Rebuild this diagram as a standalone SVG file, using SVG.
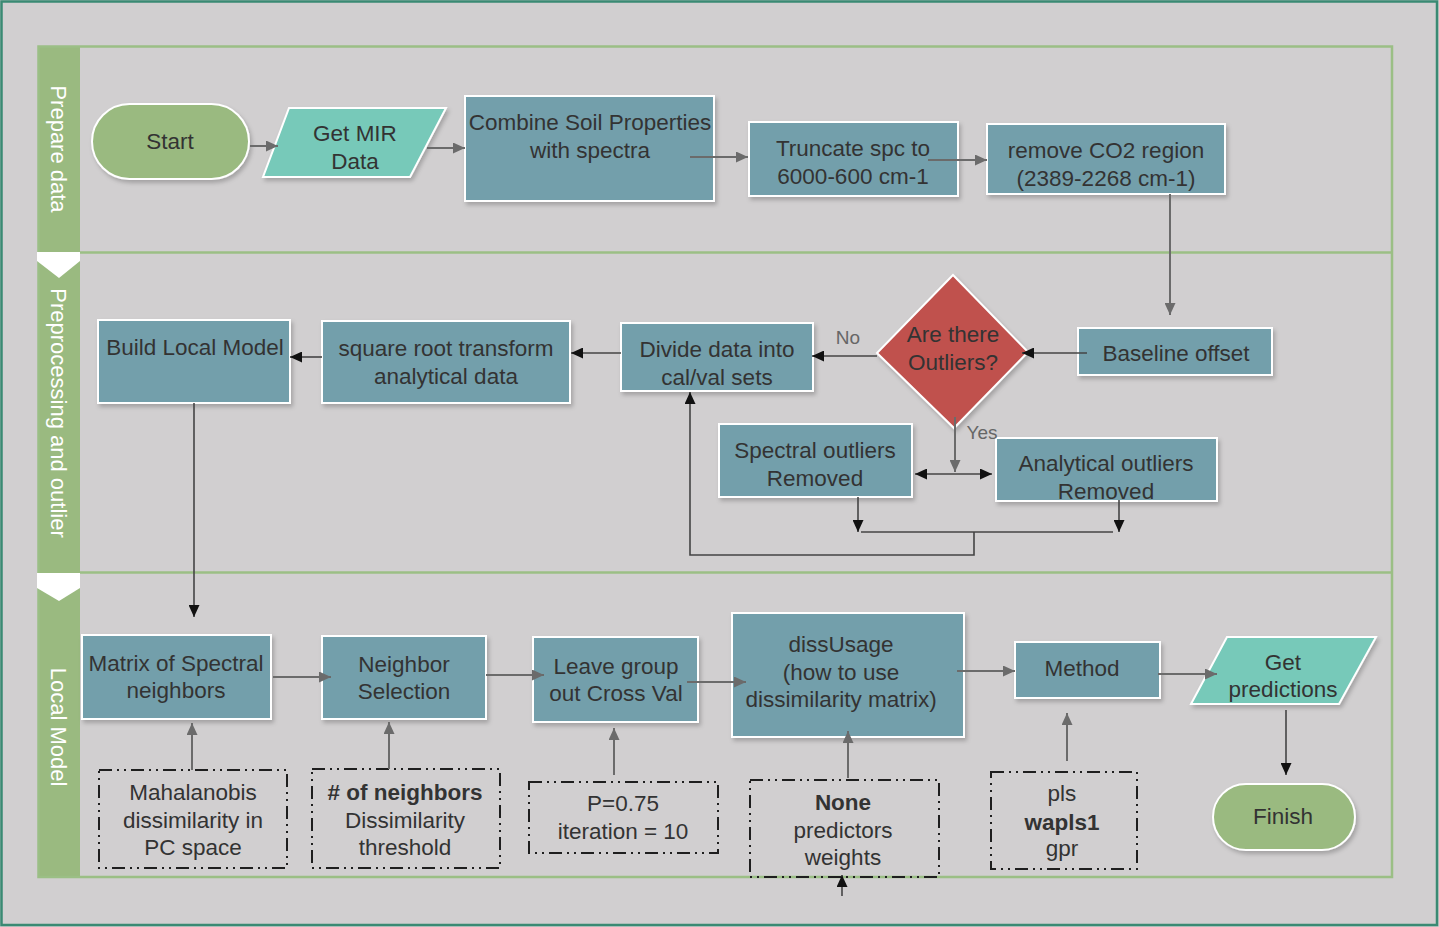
<svg xmlns="http://www.w3.org/2000/svg" width="1439" height="927" viewBox="0 0 1439 927">
  <defs>
    <style>
      text { font-family: "Liberation Sans", Arial, sans-serif; font-size: 22.5px; fill: #333333; text-anchor: middle; }
      .lane-label { fill: #ffffff; font-size: 22px; }
      .note { fill: #666666; font-size: 19px; }
      .bold { font-weight: bold; }
      .proc { fill: #739fab; stroke: #ffffff; stroke-width: 2; filter: url(#shadow); }
      .io { fill: #77c9b9; stroke: #ffffff; stroke-width: 2; filter: url(#shadow); }
      .term { fill: #9aba80; stroke: #ffffff; stroke-width: 2; filter: url(#shadow); }
      .decision { fill: #c0514e; stroke: #ffffff; stroke-width: 2; filter: url(#shadow); }
      .param { fill: none; stroke: #1e1e1e; stroke-width: 2; stroke-dasharray: 13 5 2 5 2 5; }
      .cg { fill: none; stroke: #6b6b6b; stroke-width: 2; marker-end: url(#hg); }
      .cb { fill: none; stroke: #444444; stroke-width: 1.6; marker-end: url(#hb); }
      .plain { fill: none; stroke: #444444; stroke-width: 1.6; }
    </style>
    <marker id="hg" viewBox="0 0 12 11" refX="12" refY="5.5" markerWidth="12" markerHeight="11" markerUnits="userSpaceOnUse" orient="auto">
      <path d="M0,0 L12,5.5 L0,11 z" fill="#6b6b6b"/>
    </marker>
    <marker id="hb" viewBox="0 0 12 11" refX="12" refY="5.5" markerWidth="12" markerHeight="11" markerUnits="userSpaceOnUse" orient="auto-start-reverse">
      <path d="M0,0 L12,5.5 L0,11 z" fill="#111111"/>
    </marker>
    <filter id="shadow" x="-10%" y="-10%" width="125%" height="135%">
      <feDropShadow dx="2" dy="3" stdDeviation="2" flood-color="#000000" flood-opacity="0.22"/>
    </filter>
  </defs>

  <!-- page and swimlane frame -->
  <g id="lanes">
    <rect x="0" y="0" width="1439" height="927" fill="#d1cfd0"/>
    <rect x="1.5" y="1.5" width="1435.5" height="923.5" fill="none" stroke="#3a8a73" stroke-width="2.5"/>
    <rect x="38" y="46" width="42" height="831" fill="#9aba80"/>
    <rect x="38.5" y="46.5" width="1353.5" height="830.5" fill="none" stroke="#9bbf85" stroke-width="2.5"/>
    <line x1="80" y1="252.5" x2="1392" y2="252.5" stroke="#9bbf85" stroke-width="2.5"/>
    <line x1="80" y1="572.5" x2="1392" y2="572.5" stroke="#9bbf85" stroke-width="2.5"/>
    <polygon points="37,252 80,252 80,261 59,278 37,261" fill="#ffffff"/>
    <polygon points="37,573 80,573 80,588 59,601 37,588" fill="#ffffff"/>
    <text class="lane-label" transform="translate(59,149) rotate(90)" y="8">Prepare data</text>
    <text class="lane-label" transform="translate(59,413) rotate(90)" y="8">Preprocessing and outlier</text>
    <text class="lane-label" transform="translate(59,727) rotate(90)" y="8">Local Model</text>
  </g>

  <!-- lane 1: prepare data -->
  <g id="start">
    <rect class="term" x="92" y="104" width="157" height="75" rx="37.5"/>
    <text x="170" y="149">Start</text>
  </g>
  <g id="get-mir-data">
    <polygon class="io" points="289,108 446,108 410,177 263,177"/>
    <text x="355" y="141">Get MIR</text>
    <text x="355" y="169">Data</text>
  </g>
  <g id="combine">
    <rect class="proc" x="465" y="96" width="249" height="105"/>
    <text x="590" y="130">Combine Soil Properties</text>
    <text x="590" y="158">with spectra</text>
  </g>
  <g id="truncate">
    <rect class="proc" x="749" y="122" width="209" height="74"/>
    <text x="853" y="156">Truncate spc to</text>
    <text x="853" y="184">6000-600 cm-1</text>
  </g>
  <g id="remove-co2">
    <rect class="proc" x="987" y="124" width="238" height="70"/>
    <text x="1106" y="158">remove CO2 region</text>
    <text x="1106" y="186">(2389-2268 cm-1)</text>
  </g>

  <!-- lane 2: preprocessing and outlier -->
  <g id="baseline-offset">
    <rect class="proc" x="1078" y="328" width="194" height="47"/>
    <text x="1176" y="361">Baseline offset</text>
  </g>
  <g id="outlier-decision">
    <polygon class="decision" points="953,275 1028,352 954,428 877,353"/>
    <text x="953" y="342">Are there</text>
    <text x="953" y="370">Outliers?</text>
  </g>
  <g id="divide-data">
    <rect class="proc" x="621" y="323" width="192" height="68"/>
    <text x="717" y="357">Divide data into</text>
    <text x="717" y="385">cal/val sets</text>
  </g>
  <g id="sqrt-transform">
    <rect class="proc" x="322" y="321" width="248" height="82"/>
    <text x="446" y="356">square root transform</text>
    <text x="446" y="384">analytical data</text>
  </g>
  <g id="build-local-model">
    <rect class="proc" x="98" y="320" width="192" height="83"/>
    <text x="195" y="355">Build Local Model</text>
  </g>
  <g id="spectral-outliers">
    <rect class="proc" x="719" y="424" width="193" height="73"/>
    <text x="815" y="458">Spectral outliers</text>
    <text x="815" y="486">Removed</text>
  </g>
  <g id="analytical-outliers">
    <rect class="proc" x="996" y="438" width="221" height="63"/>
    <text x="1106" y="471">Analytical outliers</text>
    <text x="1106" y="499">Removed</text>
  </g>

  <!-- lane 3: local model -->
  <g id="spectral-neighbors">
    <rect class="proc" x="82" y="635" width="189" height="84"/>
    <text x="176" y="671">Matrix of Spectral</text>
    <text x="176" y="698">neighbors</text>
  </g>
  <g id="neighbor-selection">
    <rect class="proc" x="322" y="636" width="164" height="83"/>
    <text x="404" y="672">Neighbor</text>
    <text x="404" y="699">Selection</text>
  </g>
  <g id="leave-group-out">
    <rect class="proc" x="533" y="637" width="165" height="85"/>
    <text x="616" y="674">Leave group</text>
    <text x="616" y="701">out Cross Val</text>
  </g>
  <g id="diss-usage">
    <rect class="proc" x="732" y="613" width="232" height="124"/>
    <text x="841" y="652">dissUsage</text>
    <text x="841" y="680">(how to use</text>
    <text x="841" y="707">dissimilarity matrix)</text>
  </g>
  <g id="method">
    <rect class="proc" x="1015" y="642" width="145" height="56"/>
    <text x="1082" y="676">Method</text>
  </g>
  <g id="get-predictions">
    <polygon class="io" points="1227,637 1376,637 1339,704 1191,704"/>
    <text x="1283" y="670">Get</text>
    <text x="1283" y="697">predictions</text>
  </g>
  <g id="finish">
    <rect class="term" x="1213" y="784" width="142" height="66" rx="33"/>
    <text x="1283" y="824">Finish</text>
  </g>

  <!-- parameter boxes -->
  <g id="param-dissimilarity">
    <rect class="param" x="99" y="770" width="188" height="98"/>
    <text x="193" y="800">Mahalanobis</text>
    <text x="193" y="828">dissimilarity in</text>
    <text x="193" y="855">PC space</text>
  </g>
  <g id="param-neighbors">
    <rect class="param" x="312" y="769" width="188" height="99"/>
    <text class="bold" x="405" y="800"># of neighbors</text>
    <text x="405" y="828">Dissimilarity</text>
    <text x="405" y="855">threshold</text>
  </g>
  <g id="param-cv">
    <rect class="param" x="529" y="782" width="189" height="71"/>
    <text x="623" y="811">P=0.75</text>
    <text x="623" y="839">iteration = 10</text>
  </g>
  <g id="param-diss-usage">
    <rect class="param" x="750" y="780" width="189" height="97"/>
    <text class="bold" x="843" y="810">None</text>
    <text x="843" y="838">predictors</text>
    <text x="843" y="865">weights</text>
  </g>
  <g id="param-method">
    <rect class="param" x="991" y="772" width="146" height="97"/>
    <text x="1062" y="801">pls</text>
    <text class="bold" x="1062" y="830">wapls1</text>
    <text x="1062" y="856">gpr</text>
  </g>

  <!-- connectors -->
  <g id="connectors">
    <path class="cg" d="M250,146 H278"/>
    <path class="cg" d="M427,148 H465"/>
    <path class="cg" d="M690,157 H748"/>
    <path class="cg" d="M928,160 H987"/>
    <path class="cg" d="M1170,194 V315"/>
    <path class="cb" d="M1087,353 H1022"/>
    <path class="cb" d="M877,356 H812"/>
    <path class="cb" d="M621,353 H571"/>
    <path class="cb" d="M322,357 H290"/>
    <path class="cb" d="M194,403 V617"/>
    <path class="cg" d="M955,417 V472"/>
    <path class="cb" d="M915,474 H992" marker-start="url(#hb)"/>
    <path class="cb" d="M858,497 V532"/>
    <path class="cb" d="M1119,500 V532"/>
    <path class="plain" d="M861,532 H1113"/>
    <path class="cb" d="M974,532 V555 H690 V392"/>
    <path class="cg" d="M273,677 H331"/>
    <path class="cg" d="M486,675 H544"/>
    <path class="cg" d="M687,682 H746"/>
    <path class="cg" d="M957,671 H1015"/>
    <path class="cg" d="M1158,674 H1217"/>
    <path class="cb" d="M1286,710 V775"/>
    <path class="cg" d="M192,770 V723"/>
    <path class="cg" d="M389,769 V722"/>
    <path class="cg" d="M614,775 V728"/>
    <path class="cg" d="M848,778 V731"/>
    <path class="cg" d="M1067,761 V713"/>
    <path class="cb" d="M842,896 V875"/>
    <text class="note" x="848" y="344">No</text>
    <text class="note" x="982" y="439">Yes</text>
  </g>
</svg>
